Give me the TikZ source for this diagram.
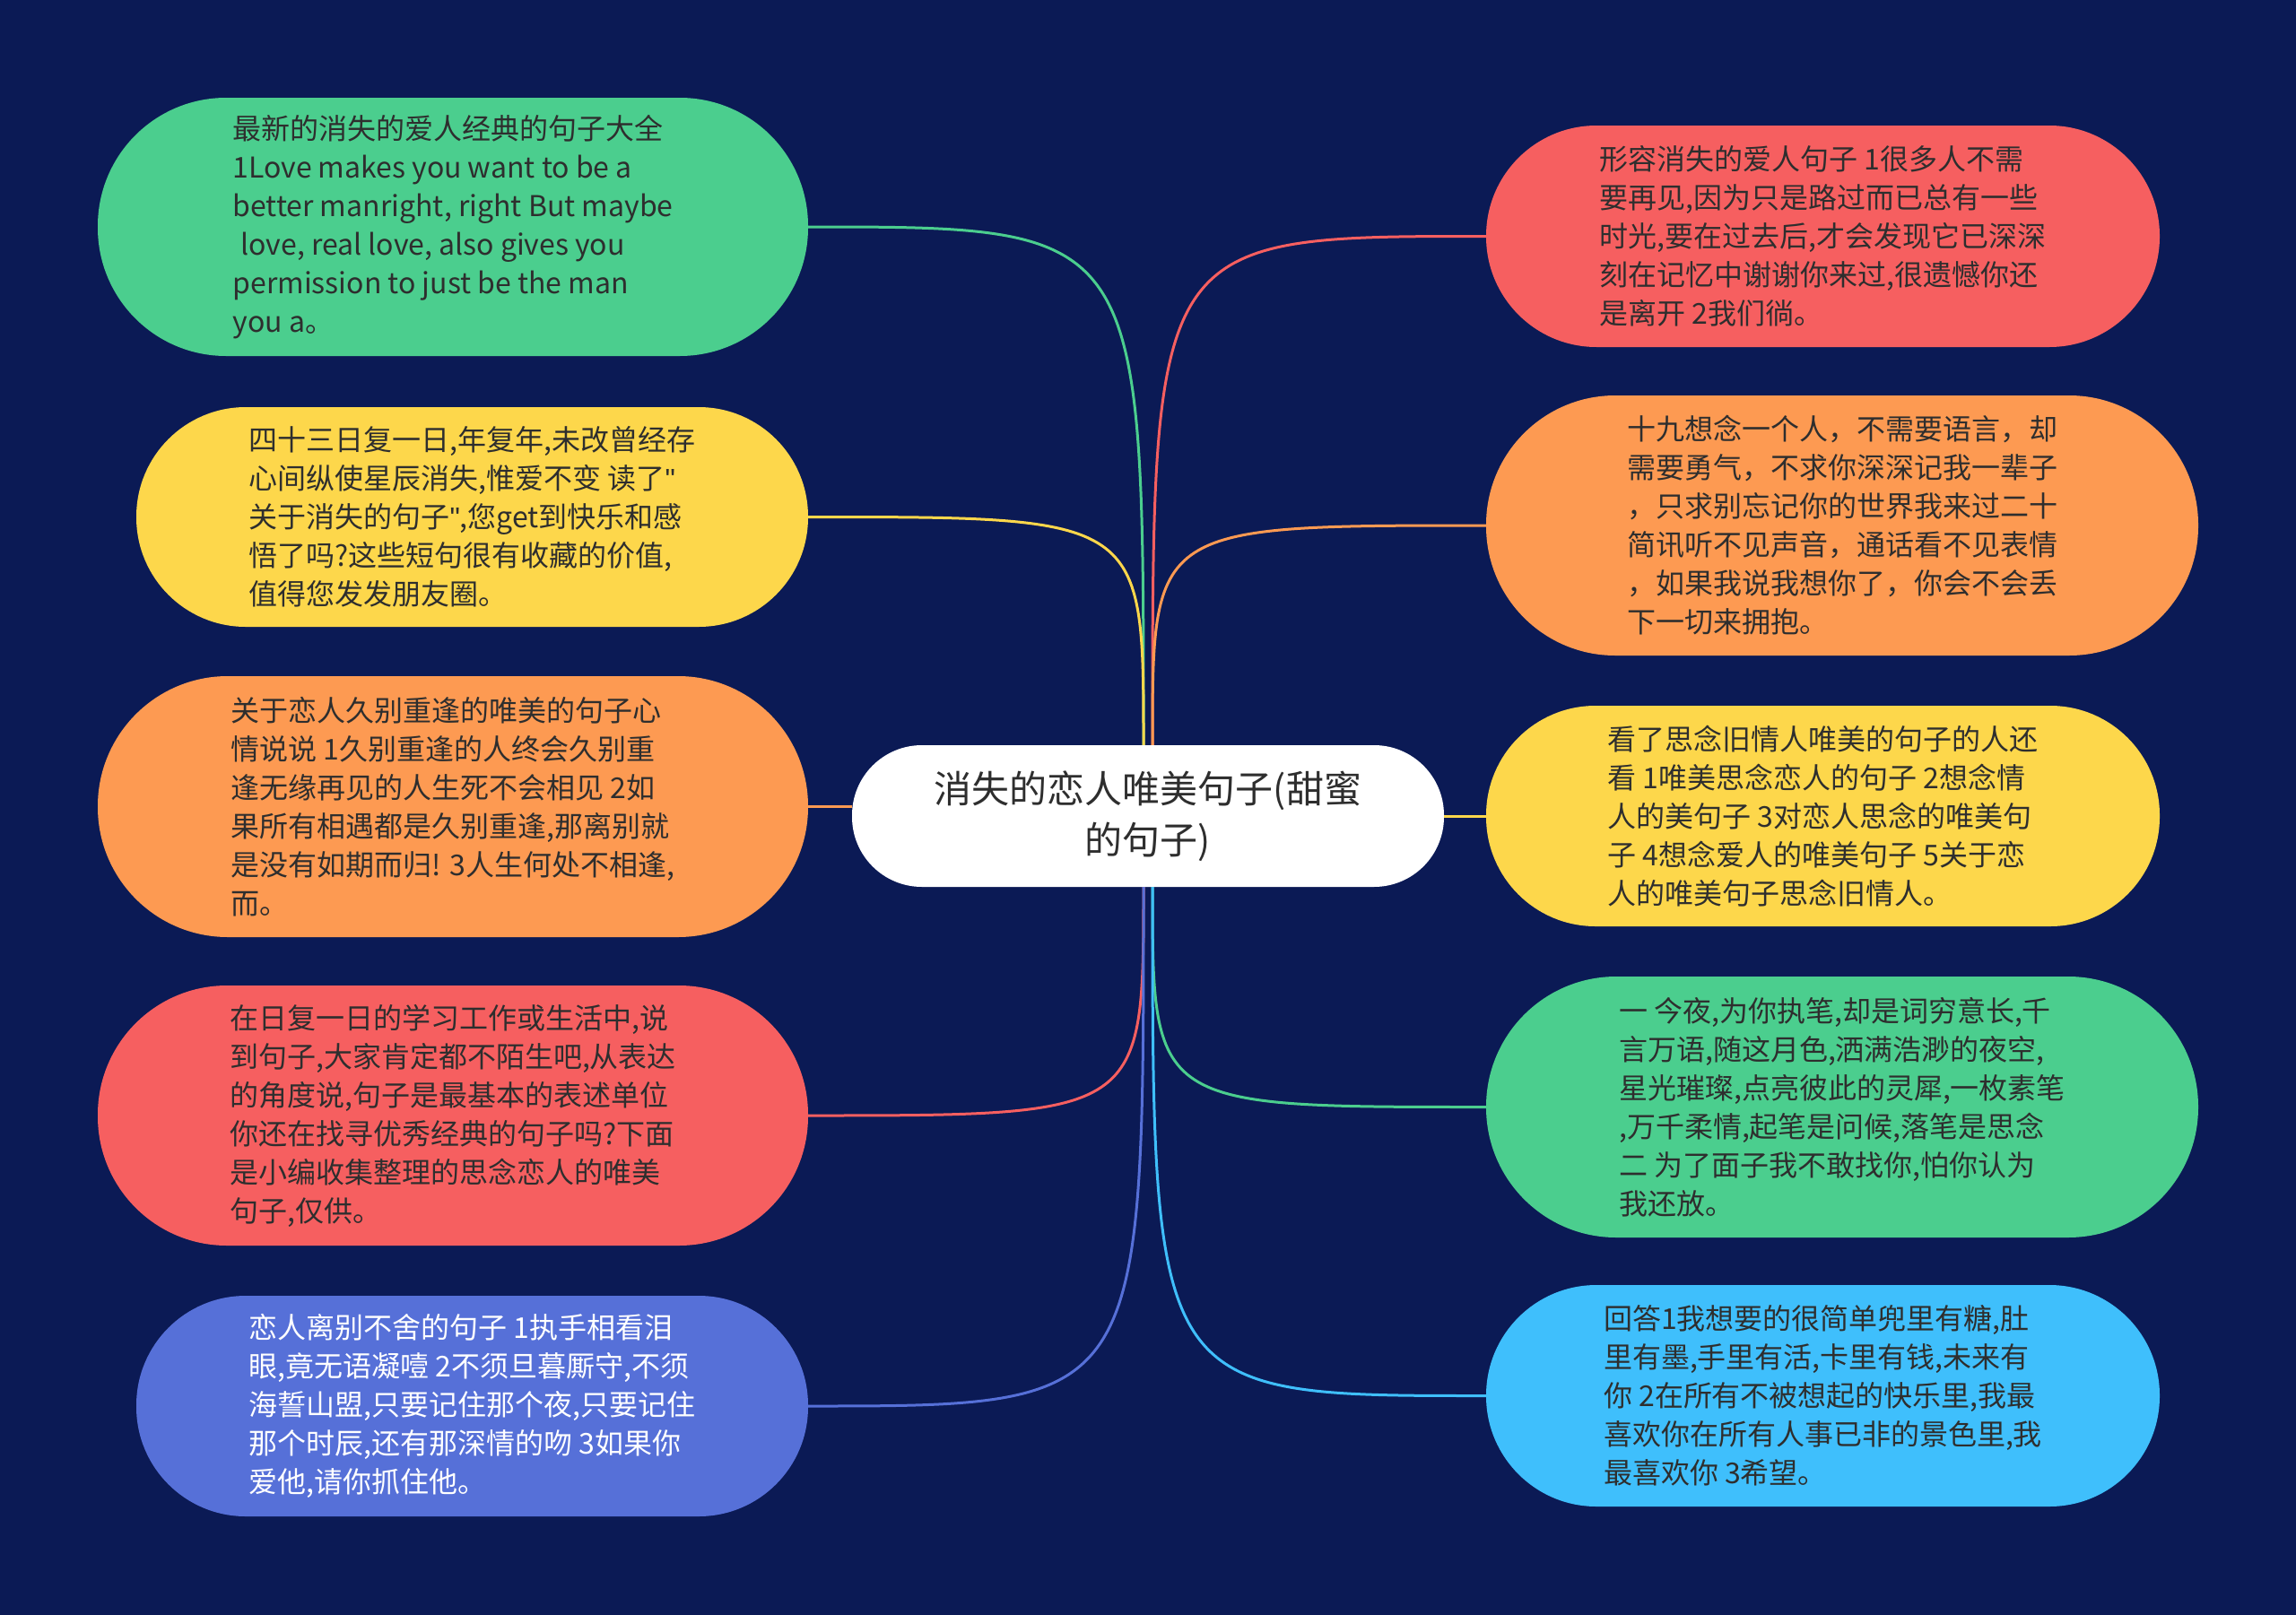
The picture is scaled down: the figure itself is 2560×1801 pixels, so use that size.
\documentclass[tikz,border=0pt]{standalone}
\usepackage{fontspec}
\setmainfont{Noto Sans CJK SC}
\newfontfamily\latinq{Liberation Sans}
\newcommand{\dq}{{\latinq\symbol{34}}}
\usetikzlibrary{calc}
\definecolor{bg}{HTML}{0B1A55}
\definecolor{cgreen}{HTML}{4BCE8E}
\definecolor{cyellow}{HTML}{FDD74B}
\definecolor{corange}{HTML}{FD9A52}
\definecolor{cred}{HTML}{F65F60}
\definecolor{cblue}{HTML}{5670D8}
\definecolor{clblue}{HTML}{3FBFFC}
\definecolor{txt}{HTML}{2E2E2E}
\tikzset{
  pill/.style={rectangle, rounded corners=#1, inner sep=0pt, align=left, text=txt,
    font=\fontsize{32}{43}\selectfont},
  link/.style={line width=3pt},
}
\begin{document}
\begin{tikzpicture}[x=1pt,y=-1pt]
\fill[bg] (0,0) rectangle (2560,1801);
\useasboundingbox (0,0) rectangle (2560,1801);

% centre
\node[rectangle, fill=white, rounded corners=78pt, minimum width=660pt, minimum height=158pt,
  align=center, text=txt, inner sep=0pt, font=\fontsize{42}{57}\selectfont] (c) at (1280,910)
  {消失的恋人唯美句子(甜蜜\\的句子)};

% left
\node[pill=143pt, fill=cgreen, minimum width=792pt, minimum height=288pt] (l1) at (505,253)
  {最新的消失的爱人经典的句子大全\\1Love makes you want to be a\\better manright, right But maybe\\\hspace*{9pt}love, real love, also gives you\\permission to just be the man\\you a。};
\node[pill=122pt, fill=cyellow, minimum width=749pt, minimum height=245pt] (l2) at (526.5,576.5)
  {四十三日复一日,年复年,未改曾经存\\心间纵使星辰消失,惟爱不变 读了\dq\\关于消失的句子\dq,您get到快乐和感\\悟了吗?这些短句很有收藏的价值,\\值得您发发朋友圈。};
\node[pill=145pt, fill=corange, minimum width=792pt, minimum height=291pt] (l3) at (505,899.5)
  {关于恋人久别重逢的唯美的句子心\\情说说 1久别重逢的人终会久别重\\逢无缘再见的人生死不会相见 2如\\果所有相遇都是久别重逢,那离别就\\是没有如期而归! 3人生何处不相逢,\\而。};
\node[pill=144pt, fill=cred, minimum width=792pt, minimum height=290pt] (l4) at (505,1244)
  {在日复一日的学习工作或生活中,说\\到句子,大家肯定都不陌生吧,从表达\\的角度说,句子是最基本的表述单位\\你还在找寻优秀经典的句子吗?下面\\是小编收集整理的思念恋人的唯美\\句子,仅供。};
\node[pill=122pt, fill=cblue, text=white, minimum width=749pt, minimum height=246pt] (l5) at (526.5,1568)
  {恋人离别不舍的句子 1执手相看泪\\眼,竟无语凝噎 2不须旦暮厮守,不须\\海誓山盟,只要记住那个夜,只要记住\\那个时辰,还有那深情的吻 3如果你\\爱他,请你抓住他。};

% right
\node[pill=123pt, fill=cred, minimum width=751pt, minimum height=247pt] (r1) at (2032.5,263.5)
  {形容消失的爱人句子 1很多人不需\\要再见,因为只是路过而已总有一些\\时光,要在过去后,才会发现它已深深\\刻在记忆中谢谢你来过,很遗憾你还\\是离开 2我们徜。};
\node[pill=144pt, fill=corange, minimum width=794pt, minimum height=290pt] (r2) at (2054,586)
  {十九想念一个人，不需要语言，却\\需要勇气，不求你深深记我一辈子\\，只求别忘记你的世界我来过二十\\简讯听不见声音，通话看不见表情\\，如果我说我想你了，你会不会丢\\下一切来拥抱。};
\node[pill=122pt, fill=cyellow, minimum width=751pt, minimum height=246pt] (r3) at (2032.5,910)
  {看了思念旧情人唯美的句子的人还\\看 1唯美思念恋人的句子 2想念情\\人的美句子 3对恋人思念的唯美句\\子 4想念爱人的唯美句子 5关于恋\\人的唯美句子思念旧情人。};
\node[pill=145pt, fill=cgreen, minimum width=794pt, minimum height=291pt] (r4) at (2054,1234.5)
  {一 今夜,为你执笔,却是词穷意长,千\\言万语,随这月色,洒满浩渺的夜空,\\星光璀璨,点亮彼此的灵犀,一枚素笔\\,万千柔情,起笔是问候,落笔是思念\\二 为了面子我不敢找你,怕你认为\\我还放。};
\node[pill=123pt, fill=clblue, minimum width=751pt, minimum height=247pt] (r5) at (2032.5,1556.5)
  {回答1我想要的很简单兜里有糖,肚\\里有墨,手里有活,卡里有钱,未来有\\你 2在所有不被想起的快乐里,我最\\喜欢你在所有人事已非的景色里,我\\最喜欢你 3希望。};

% connector ends on the centre
\coordinate (ctl) at ($(c.north)+(-5,0)$);
\coordinate (ctr) at ($(c.north)+(5,0)$);
\coordinate (cbl) at ($(c.south)+(-5,0)$);
\coordinate (cbr) at ($(c.south)+(5,0)$);

\draw[link, cgreen]  (l1.east) .. controls (ctl |- l1.east) .. (ctl);
\draw[link, cyellow] (l2.east) .. controls (ctl |- l2.east) .. (ctl);
\draw[link, corange] (l3.east) -- (l3.east -| c.west);
\draw[link, cred]    (l4.east) .. controls (cbl |- l4.east) .. (cbl);
\draw[link, cblue]   (l5.east) .. controls (cbl |- l5.east) .. (cbl);

\draw[link, cred]    (r1.west) .. controls (ctr |- r1.west) .. (ctr);
\draw[link, corange] (r2.west) .. controls (ctr |- r2.west) .. (ctr);
\draw[link, cyellow] (r3.west) -- (r3.west -| c.east);
\draw[link, cgreen]  (r4.west) .. controls (cbr |- r4.west) .. (cbr);
\draw[link, clblue]  (r5.west) .. controls (cbr |- r5.west) .. (cbr);
\end{tikzpicture}
\end{document}
